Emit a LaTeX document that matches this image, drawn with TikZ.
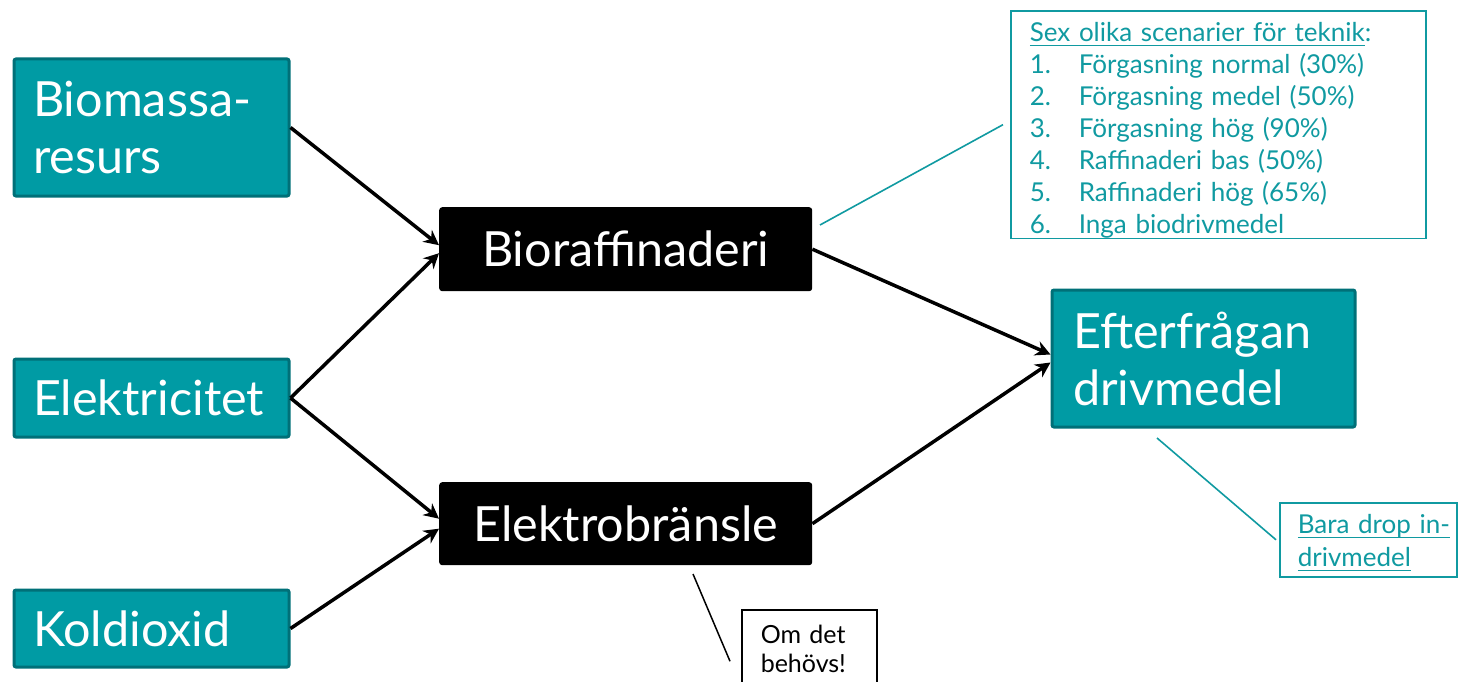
\documentclass[tikz,border=0pt]{standalone}
\usepackage{fontspec}
\setmainfont{Lato}
\usetikzlibrary{arrows.meta, positioning}

\definecolor{tealfill}{RGB}{0,155,164}
\definecolor{tealedge}{RGB}{0,112,120}
\definecolor{tealtext}{RGB}{16,154,161}
\newcommand\ulin[1]{\leavevmode\setbox0=\hbox{#1}\rlap{\rule[-0.18em]{\wd0}{0.055em}}\box0}

\begin{document}
\begin{tikzpicture}[x=1pt, y=-1pt,
    source/.style={draw=tealedge, line width=3pt, fill=tealfill, rounded corners=2pt, text=white, anchor=north west,
        align=left, inner xsep=19pt, inner ysep=0pt, font=\fontsize{48.5}{57}\selectfont},
    process/.style={fill=black, rounded corners=3pt, text=white, anchor=north west, inner sep=0pt,
        minimum width=373pt, font=\fontsize{48.5}{57}\selectfont},
    flow/.style={line width=3.5pt, -{Stealth[length=15pt, width=15pt]}},
    note/.style={draw=tealtext, line width=1.6pt, text=tealtext, anchor=north west, align=left, inner ysep=0pt},
    pin/.style={draw=tealtext, line width=1.6pt}]
    \useasboundingbox (0,0) rectangle (1459,682);

    % sources
    \node[source, text width=237pt, minimum height=137pt] (bio) at (12.5,57.5) {Biomassa-\\resurs};
    \node[source, text width=237pt, minimum height=78pt] (el) at (12.5,357.5) {Elektricitet};
    \node[source, text width=237pt, minimum height=77pt] (co) at (12.5,588.5) {Koldioxid};

    % conversion
    \node[process, minimum height=84pt] (raf) at (439,207) {Bioraffinaderi};
    \node[process, minimum height=83pt] (elb) at (439,482) {Elektrobränsle};

    % demand
    \node[source, inner xsep=21pt, text width=261pt, minimum height=137pt] (eft) at (1050.5,288.5) {Efterfrågan\\drivmedel};

    \draw[flow] (bio.east) -- ([yshift=4pt]raf.west);
    \draw[flow] (el.east) -- ([yshift=-4pt]raf.west);
    \draw[flow] (el.east) -- ([yshift=5pt]elb.west);
    \draw[flow] (co.east) -- ([yshift=-5pt]elb.west);
    \draw[flow] (raf.east) -- ([yshift=4pt]eft.west);
    \draw[flow] (elb.east) -- ([yshift=-4pt]eft.west);

    % notes
    \node[note, inner xsep=19pt, text width=377pt, minimum height=227pt, font=\fontsize{26}{32}\selectfont] (scen) at (1010,10)
        {\rule{0pt}{31pt}\ulin{Sex olika scenarier för teknik}:\\
         \makebox[49pt][l]{1.}Förgasning normal (30\%)\\
         \makebox[49pt][l]{2.}Förgasning medel (50\%)\\
         \makebox[49pt][l]{3.}Förgasning hög (90\%)\\
         \makebox[49pt][l]{4.}Raffinaderi bas (50\%)\\
         \makebox[49pt][l]{5.}Raffinaderi hög (65\%)\\
         \makebox[49pt][l]{6.}Inga biodrivmedel};
    \node[note, inner xsep=18pt, text width=141pt, minimum height=74pt, font=\fontsize{26}{33}\selectfont] (drop) at (1279,502)
        {\rule{0pt}{25pt}\ulin{Bara drop in-}\\\ulin{drivmedel}};
    \node[draw=black, line width=1.5pt, anchor=north west, align=left, inner xsep=19pt, inner ysep=0pt, text width=97pt,
        minimum height=79pt, font=\fontsize{25}{29}\selectfont] (need) at (741,609) {Om det\\behövs!};

    \coordinate (rafpin) at (820,225);
    \coordinate (eftpin) at (1157,438);
    \coordinate (elbpin) at (693,574);
    \draw[pin] (rafpin) -- ([xshift=-7pt]scen.west);
    \draw[pin] (eftpin) -- ([xshift=-3pt]drop.west);
    \draw[line width=1.5pt] (elbpin) -- ([shift={(-11pt,-12pt)}]need.west);
\end{tikzpicture}
\end{document}
